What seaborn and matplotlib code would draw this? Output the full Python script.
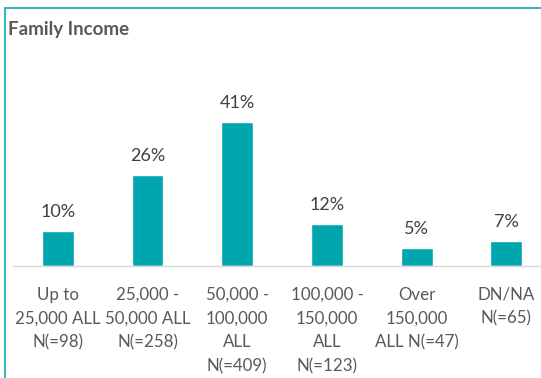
import matplotlib
matplotlib.use("Agg")
import matplotlib.pyplot as plt
from matplotlib.patches import Rectangle
import seaborn as sns
import pandas as pd
import numpy as np

# Family income distribution of respondents
categories = [
    "Up to\n25,000 ALL\nN(=98)",
    "25,000 -\n50,000 ALL\nN(=258)",
    "50,000 -\n100,000\nALL\nN(=409)",
    "100,000 -\n150,000\nALL\nN(=123)",
    "Over\n150,000\nALL N(=47)",
    "DN/NA\nN(=65)",
]
shares = [10, 26, 41, 12, 5, 7]

df = pd.DataFrame({"group": categories, "share": shares})

sns.set_theme(style="white")
plt.rcParams["font.family"] = ["Lato", "DejaVu Sans"]

W, H = 541, 378
fig = plt.figure(figsize=(W / 100, H / 100), dpi=100)

# plot area: baseline at y=266px, category slots ~89.7px wide
left_px, base_px, slot_px = 13, 266, 89.7
px_per_pct = 3.51
ymax = 45
ax = fig.add_axes([left_px / W, (H - base_px) / H,
                   6 * slot_px / W, ymax * px_per_pct / H])

teal = "#00A6AD"
sns.barplot(data=df, x="group", y="share", color=teal, width=0.355,
            saturation=1, ax=ax)

ax.set_xlim(-0.5, 5.5)
ax.set_ylim(0, ymax)
ax.set_xlabel("")
ax.set_ylabel("")
ax.set_yticks([])

for s in ["top", "right", "left"]:
    ax.spines[s].set_visible(False)
ax.spines["bottom"].set_color("#d9d9d9")
ax.spines["bottom"].set_linewidth(1.0)

# category labels centred under bars, tick marks on slot boundaries
ax.set_xticks(range(len(categories)))
ax.set_xticklabels(categories, fontsize=12.2, color="#595959", linespacing=1.6,
                   va="top")
ax.tick_params(axis="x", which="major", length=0, pad=15)
ax.set_xticks(np.arange(-0.5, 5.6, 1.0), minor=True)
ax.tick_params(axis="x", which="minor", length=5, width=1.0, color="#d9d9d9",
               direction="out")

for i, v in enumerate(shares):
    ax.annotate(f"{v}%", (i, v), xytext=(0, 8), textcoords="offset points",
                ha="center", va="bottom", fontsize=13, color="#404040",
                annotation_clip=False)

fig.text(8 / W, 1 - 30 / H, "Family Income", fontsize=13.5, fontweight="bold",
         color="#595959", ha="left", va="center")

# outer frame, running off the right and bottom edges
fig.patches.append(Rectangle((5 / W, -0.1), 1.2, 1 - 8 / H + 0.1,
                             transform=fig.transFigure, fill=False,
                             edgecolor="#1DB0BA", linewidth=1.3))

fig.savefig("out.png", dpi=100)
